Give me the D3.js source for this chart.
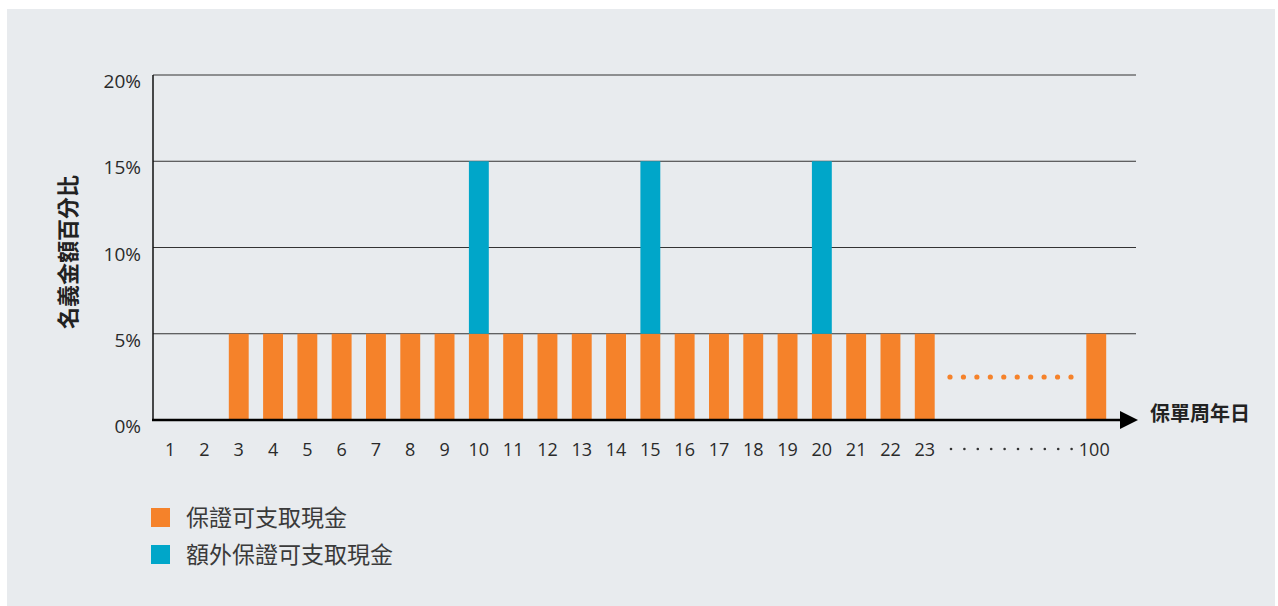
<!DOCTYPE html>
<html>
<head>
<meta charset="utf-8">
<script src="https://cdn.jsdelivr.net/npm/d3@7"></script>
<style>
body { margin: 0; background: #fff; }
svg text { font-family: "Open Sans", "Noto Sans CJK TC", sans-serif; }
</style>
</head>
<body>
<svg width="1278" height="606"></svg>
<script>
// categories (policy anniversaries) shown on the x axis, with a gap before 100
var years = ["1","2","3","4","5","6","7","8","9","10","11","12","13","14","15","16","17","18","19","20","21","22","23","g1","g2","g3","g4","100"];
var tickLabels = ["1","2","3","4","5","6","7","8","9","10","11","12","13","14","15","16","17","18","19","20","21","22","23","100"];
var guaranteed = [0,0,5,5,5,5,5,5,5,5,5,5,5,5,5,5,5,5,5,5,5,5,5,0,0,0,0,5];
var extra =      [0,0,0,0,0,0,0,0,0,10,0,0,0,0,10,0,0,0,0,10,0,0,0,0,0,0,0,0];
var yTicks = [0, 5, 10, 15, 20];
var seriesNames = ["保證可支取現金", "額外保證可支取現金"];
var colors = ["#f5822a", "#00a6c9"];

var svg = d3.select("svg");
svg.append("rect").attr("x", 7).attr("y", 9).attr("width", 1268).attr("height", 597).attr("fill", "#e8ebee");

var pLeft = 153, pRight = 1136, pTop = 75, pBottom = 420;
var x = d3.scaleBand().domain(years).range([pLeft, pLeft + 28 * 34.3]).paddingInner(0.42).paddingOuter(0.21);
var y = d3.scaleLinear().domain([0, 20]).range([pBottom, pTop]);

// gridlines
svg.append("g").selectAll("line").data(yTicks.filter(function (d) { return d > 0; })).enter()
    .append("line")
    .attr("x1", pLeft).attr("x2", pRight)
    .attr("y1", function (d) { return y(d); }).attr("y2", function (d) { return y(d); })
    .attr("stroke", "#333").attr("stroke-width", 1);

// y tick labels
svg.append("g").selectAll("text").data(yTicks).enter()
    .append("text")
    .attr("x", 141).attr("y", function (d) { return y(d) + 13; })
    .attr("text-anchor", "end").attr("font-size", 19).attr("fill", "#2a2a2a")
    .text(function (d) { return d + "%"; });

// bars
var rows = years.map(function (d, i) { return { year: d, g: guaranteed[i], e: extra[i] }; });
svg.append("g").selectAll("rect").data(rows.filter(function (d) { return d.g > 0; })).enter()
    .append("rect")
    .attr("x", function (d) { return x(d.year); })
    .attr("width", x.bandwidth())
    .attr("y", function (d) { return y(d.g); })
    .attr("height", function (d) { return y(0) - y(d.g); })
    .attr("fill", colors[0]);
svg.append("g").selectAll("rect").data(rows.filter(function (d) { return d.e > 0; })).enter()
    .append("rect")
    .attr("x", function (d) { return x(d.year); })
    .attr("width", x.bandwidth())
    .attr("y", function (d) { return y(d.g + d.e); })
    .attr("height", function (d) { return y(d.g) - y(d.g + d.e); })
    .attr("fill", colors[1]);

// orange dots in the gap
var gapStart = 950, gapEnd = 1071;
svg.append("g").selectAll("circle").data(d3.range(10)).enter()
    .append("circle")
    .attr("cx", function (i) { return gapStart + i * (gapEnd - gapStart) / 9; })
    .attr("cy", 377).attr("r", 2.6).attr("fill", colors[0]);

// y axis
svg.append("line").attr("x1", pLeft).attr("x2", pLeft).attr("y1", pTop).attr("y2", pBottom)
    .attr("stroke", "#111").attr("stroke-width", 1.5);
// x axis with arrow
svg.append("line").attr("x1", pLeft - 1).attr("x2", 1124).attr("y1", pBottom).attr("y2", pBottom)
    .attr("stroke", "#000").attr("stroke-width", 2.5);
svg.append("path").attr("d", "M1120," + (pBottom - 9) + "L1138," + pBottom + "L1120," + (pBottom + 9) + "Z").attr("fill", "#000");

// x tick labels
svg.append("g").selectAll("text").data(tickLabels).enter()
    .append("text")
    .attr("x", function (d) { return x(d) + x.bandwidth() / 2 - (d == "100" ? 2 : 0); })
    .attr("y", 456)
    .attr("text-anchor", "middle").attr("font-size", 18).attr("fill", "#2a2a2a")
    .text(function (d) { return d; });
svg.append("g").selectAll("circle").data(d3.range(10)).enter()
    .append("circle")
    .attr("cx", function (i) { return 951 + i * 13.4; })
    .attr("cy", 449).attr("r", 1.3).attr("fill", "#333");

// axis titles
svg.append("text").attr("transform", "translate(76,252) rotate(-90)")
    .attr("text-anchor", "middle").attr("font-size", 22).attr("font-weight", "bold").attr("fill", "#222")
    .text("名義金額百分比");
svg.append("text").attr("x", 1150).attr("y", 421).attr("font-size", 20).attr("font-weight", "bold").attr("fill", "#222")
    .text("保單周年日");

// legend
var lg = svg.append("g").selectAll("g").data(seriesNames).enter().append("g")
    .attr("transform", function (d, i) { return "translate(151," + (508 + i * 37) + ")"; });
lg.append("rect").attr("width", 19).attr("height", 19).attr("fill", function (d, i) { return colors[i]; });
lg.append("text").attr("x", 35).attr("y", 18).attr("font-size", 23).attr("fill", "#3a3a3a")
    .text(function (d) { return d; });
</script>
</body>
</html>
